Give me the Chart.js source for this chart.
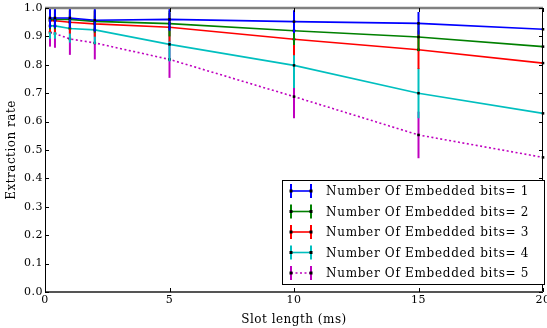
<!DOCTYPE html>
<html>
<head>
<meta charset="utf-8">
<script src="https://cdn.jsdelivr.net/npm/chart.js@4/dist/chart.umd.min.js"></script>
<style>
html,body{margin:0;padding:0;background:#fff;}
#wrap{width:547px;height:328px;position:relative;}
</style>
</head>
<body>
<div id="wrap"><canvas id="c" width="547" height="328"></canvas></div>
<script>
// ---- data ----
const slotLengths = [0.2, 0.4, 1, 2, 5, 10, 15, 20];
const seriesLabels = [
  "Number Of Embedded bits= 1",
  "Number Of Embedded bits= 2",
  "Number Of Embedded bits= 3",
  "Number Of Embedded bits= 4",
  "Number Of Embedded bits= 5"
];
const bits1 = [0.965, 0.965, 0.965, 0.957, 0.960, 0.952, 0.946, 0.925];
const bits2 = [0.960, 0.960, 0.960, 0.953, 0.945, 0.920, 0.898, 0.864];
const bits3 = [0.955, 0.955, 0.950, 0.944, 0.932, 0.890, 0.853, 0.806];
const bits4 = [0.937, 0.937, 0.928, 0.923, 0.872, 0.798, 0.700, 0.629];
const bits5 = [0.914, 0.910, 0.891, 0.877, 0.819, 0.688, 0.553, 0.474];
const err1 = [0.035, 0.035, 0.035, 0.040, 0.040, 0.040, 0.040, 0.045];
const err2 = [0.035, 0.035, 0.035, 0.040, 0.045, 0.050, 0.050, 0.055];
const err3 = [0.040, 0.040, 0.040, 0.045, 0.050, 0.056, 0.068, 0.075];
const err4 = [0.045, 0.045, 0.050, 0.050, 0.060, 0.080, 0.088, 0.090];
const err5 = [0.050, 0.050, 0.056, 0.058, 0.065, 0.076, 0.082, 0.085];
const xTicks = [0, 5, 10, 15, 20];
const yTicks = [0.0, 0.1, 0.2, 0.3, 0.4, 0.5, 0.6, 0.7, 0.8, 0.9, 1.0];

const colors = ['#0000ff', '#008000', '#ff0000', '#00bfbf', '#bf00bf'];
const values = [bits1, bits2, bits3, bits4, bits5];
const errors = [err1, err2, err3, err4, err5];
const FONT = "'DejaVu Serif', 'Liberation Serif', serif";

const datasets = values.map((vals, i) => ({
  label: seriesLabels[i],
  data: slotLengths.map((x, j) => ({x: x, y: vals[j]})),
  errs: errors[i],
  borderColor: colors[i],
  backgroundColor: colors[i],
  borderWidth: 1.6,
  borderDash: i === 4 ? [2, 2.5] : [],
  pointStyle: 'rect',
  pointRadius: 1.8,
  pointBackgroundColor: '#000',
  pointBorderColor: '#000',
  pointBorderWidth: 0,
  tension: 0,
  fill: false,
  clip: false
}));

const spacingPlugin = {
  id: 'spacing',
  beforeDraw(chart) { chart.ctx.letterSpacing = '0.5px'; }
};

const errorBarPlugin = {
  id: 'errbars',
  beforeDatasetDraw(chart, args) {
    const ds = chart.data.datasets[args.index];
    const xs = chart.scales.x, ys = chart.scales.y;
    const ca = chart.chartArea;
    const ctx = chart.ctx;
    ctx.save();
    ctx.beginPath();
    ctx.rect(ca.left, ca.top, ca.right - ca.left, ca.bottom - ca.top);
    ctx.clip();
    ctx.strokeStyle = ds.borderColor;
    ctx.lineWidth = 2;
    ds.data.forEach((p, j) => {
      const px = xs.getPixelForValue(p.x);
      const y1 = ys.getPixelForValue(p.y + ds.errs[j]);
      const y2 = ys.getPixelForValue(p.y - ds.errs[j]);
      ctx.beginPath();
      ctx.moveTo(px, y1);
      ctx.lineTo(px, y2);
      ctx.stroke();
    });
    ctx.restore();
  }
};

const framePlugin = {
  id: 'frame',
  afterDraw(chart) {
    const ctx = chart.ctx, ca = chart.chartArea;
    const xs = chart.scales.x, ys = chart.scales.y;
    ctx.save();
    // spines
    ctx.strokeStyle = '#000';
    ctx.lineWidth = 1;
    ctx.beginPath();
    ctx.moveTo(ca.left + 0.5, ca.top); ctx.lineTo(ca.left + 0.5, ca.bottom);
    ctx.moveTo(ca.right - 0.5, ca.top); ctx.lineTo(ca.right - 0.5, ca.bottom);
    ctx.stroke();
    ctx.strokeStyle = '#808080';
    ctx.lineWidth = 2.5;
    ctx.beginPath();
    ctx.moveTo(ca.left, ca.top); ctx.lineTo(ca.right, ca.top);
    ctx.stroke();
    ctx.strokeStyle = '#555';
    ctx.lineWidth = 2;
    ctx.beginPath();
    ctx.moveTo(ca.left, ca.bottom); ctx.lineTo(ca.right, ca.bottom);
    ctx.stroke();
    // inward ticks
    ctx.strokeStyle = '#000';
    ctx.lineWidth = 1;
    ctx.beginPath();
    xTicks.forEach(v => {
      const px = Math.round(xs.getPixelForValue(v)) + 0.5;
      ctx.moveTo(px, ca.bottom); ctx.lineTo(px, ca.bottom - 4);
      ctx.moveTo(px, ca.top); ctx.lineTo(px, ca.top + 4);
    });
    yTicks.forEach(v => {
      const py = Math.round(ys.getPixelForValue(v)) + 0.5;
      ctx.moveTo(ca.left, py); ctx.lineTo(ca.left + 4, py);
      ctx.moveTo(ca.right, py); ctx.lineTo(ca.right - 4, py);
    });
    ctx.stroke();

    // legend
    const lx = 282, ly = 180, lw = 263, lh = 105;
    ctx.fillStyle = '#fff';
    ctx.fillRect(lx, ly, lw, lh);
    ctx.strokeStyle = '#000';
    ctx.lineWidth = 1;
    ctx.strokeRect(lx + 0.5, ly + 0.5, lw - 1, lh - 1);
    ctx.font = '12px ' + FONT;
    ctx.letterSpacing = '0.7px';
    ctx.textBaseline = 'middle';
    ctx.textAlign = 'left';
    chart.data.datasets.forEach((ds, i) => {
      const cy = ly + 11 + i * 20.5;
      const x1 = 291, x2 = 311;
      ctx.strokeStyle = ds.borderColor;
      ctx.lineWidth = 1.6;
      ctx.setLineDash(ds.borderDash || []);
      ctx.beginPath();
      ctx.moveTo(x1, cy); ctx.lineTo(x2, cy);
      ctx.stroke();
      ctx.setLineDash([]);
      ctx.lineWidth = 2;
      ctx.beginPath();
      ctx.moveTo(x1, cy - 7); ctx.lineTo(x1, cy + 7);
      ctx.moveTo(x2, cy - 7); ctx.lineTo(x2, cy + 7);
      ctx.stroke();
      ctx.fillStyle = '#000';
      ctx.fillRect(x1 - 1.5, cy - 1.5, 3, 3);
      ctx.fillRect(x2 - 1.5, cy - 1.5, 3, 3);
      ctx.fillText(ds.label, 326, cy + 1);
    });
    ctx.restore();
  }
};

new Chart(document.getElementById('c'), {
  type: 'line',
  data: { datasets: datasets },
  plugins: [spacingPlugin, errorBarPlugin, framePlugin],
  options: {
    responsive: false,
    animation: false,
    events: [],
    layout: { padding: { top: 8, right: 2, left: 0, bottom: 0 } },
    plugins: { legend: { display: false }, tooltip: { enabled: false } },
    scales: {
      x: {
        type: 'linear',
        min: 0, max: 20,
        afterBuildTicks(s) { s.ticks = xTicks.map(v => ({value: v})); },
        afterFit(s) { s.height = 36; s.paddingLeft = 0; s.paddingRight = 0; },
        grid: { display: true, drawOnChartArea: false, drawTicks: false },
        border: { display: false },
        ticks: { color: '#000', font: { family: FONT, size: 11 }, padding: 2, maxRotation: 0, autoSkip: false },
        title: { display: true, text: 'Slot length (ms)', color: '#000', font: { family: FONT, size: 12 }, padding: { top: 0, bottom: 1 } }
      },
      y: {
        min: 0, max: 1,
        afterBuildTicks(s) { s.ticks = yTicks.map(v => ({value: v})); },
        afterFit(s) { s.width = 45; s.paddingTop = 0; s.paddingBottom = 0; },
        grid: { display: true, drawOnChartArea: false, drawTicks: false },
        border: { display: false },
        ticks: { color: '#000', font: { family: FONT, size: 11 }, padding: 2, callback: v => Number(v).toFixed(1) },
        title: { display: true, text: 'Extraction rate', color: '#000', font: { family: FONT, size: 12 }, padding: { top: 5, bottom: 2 } }
      }
    }
  }
});
</script>
</body>
</html>
